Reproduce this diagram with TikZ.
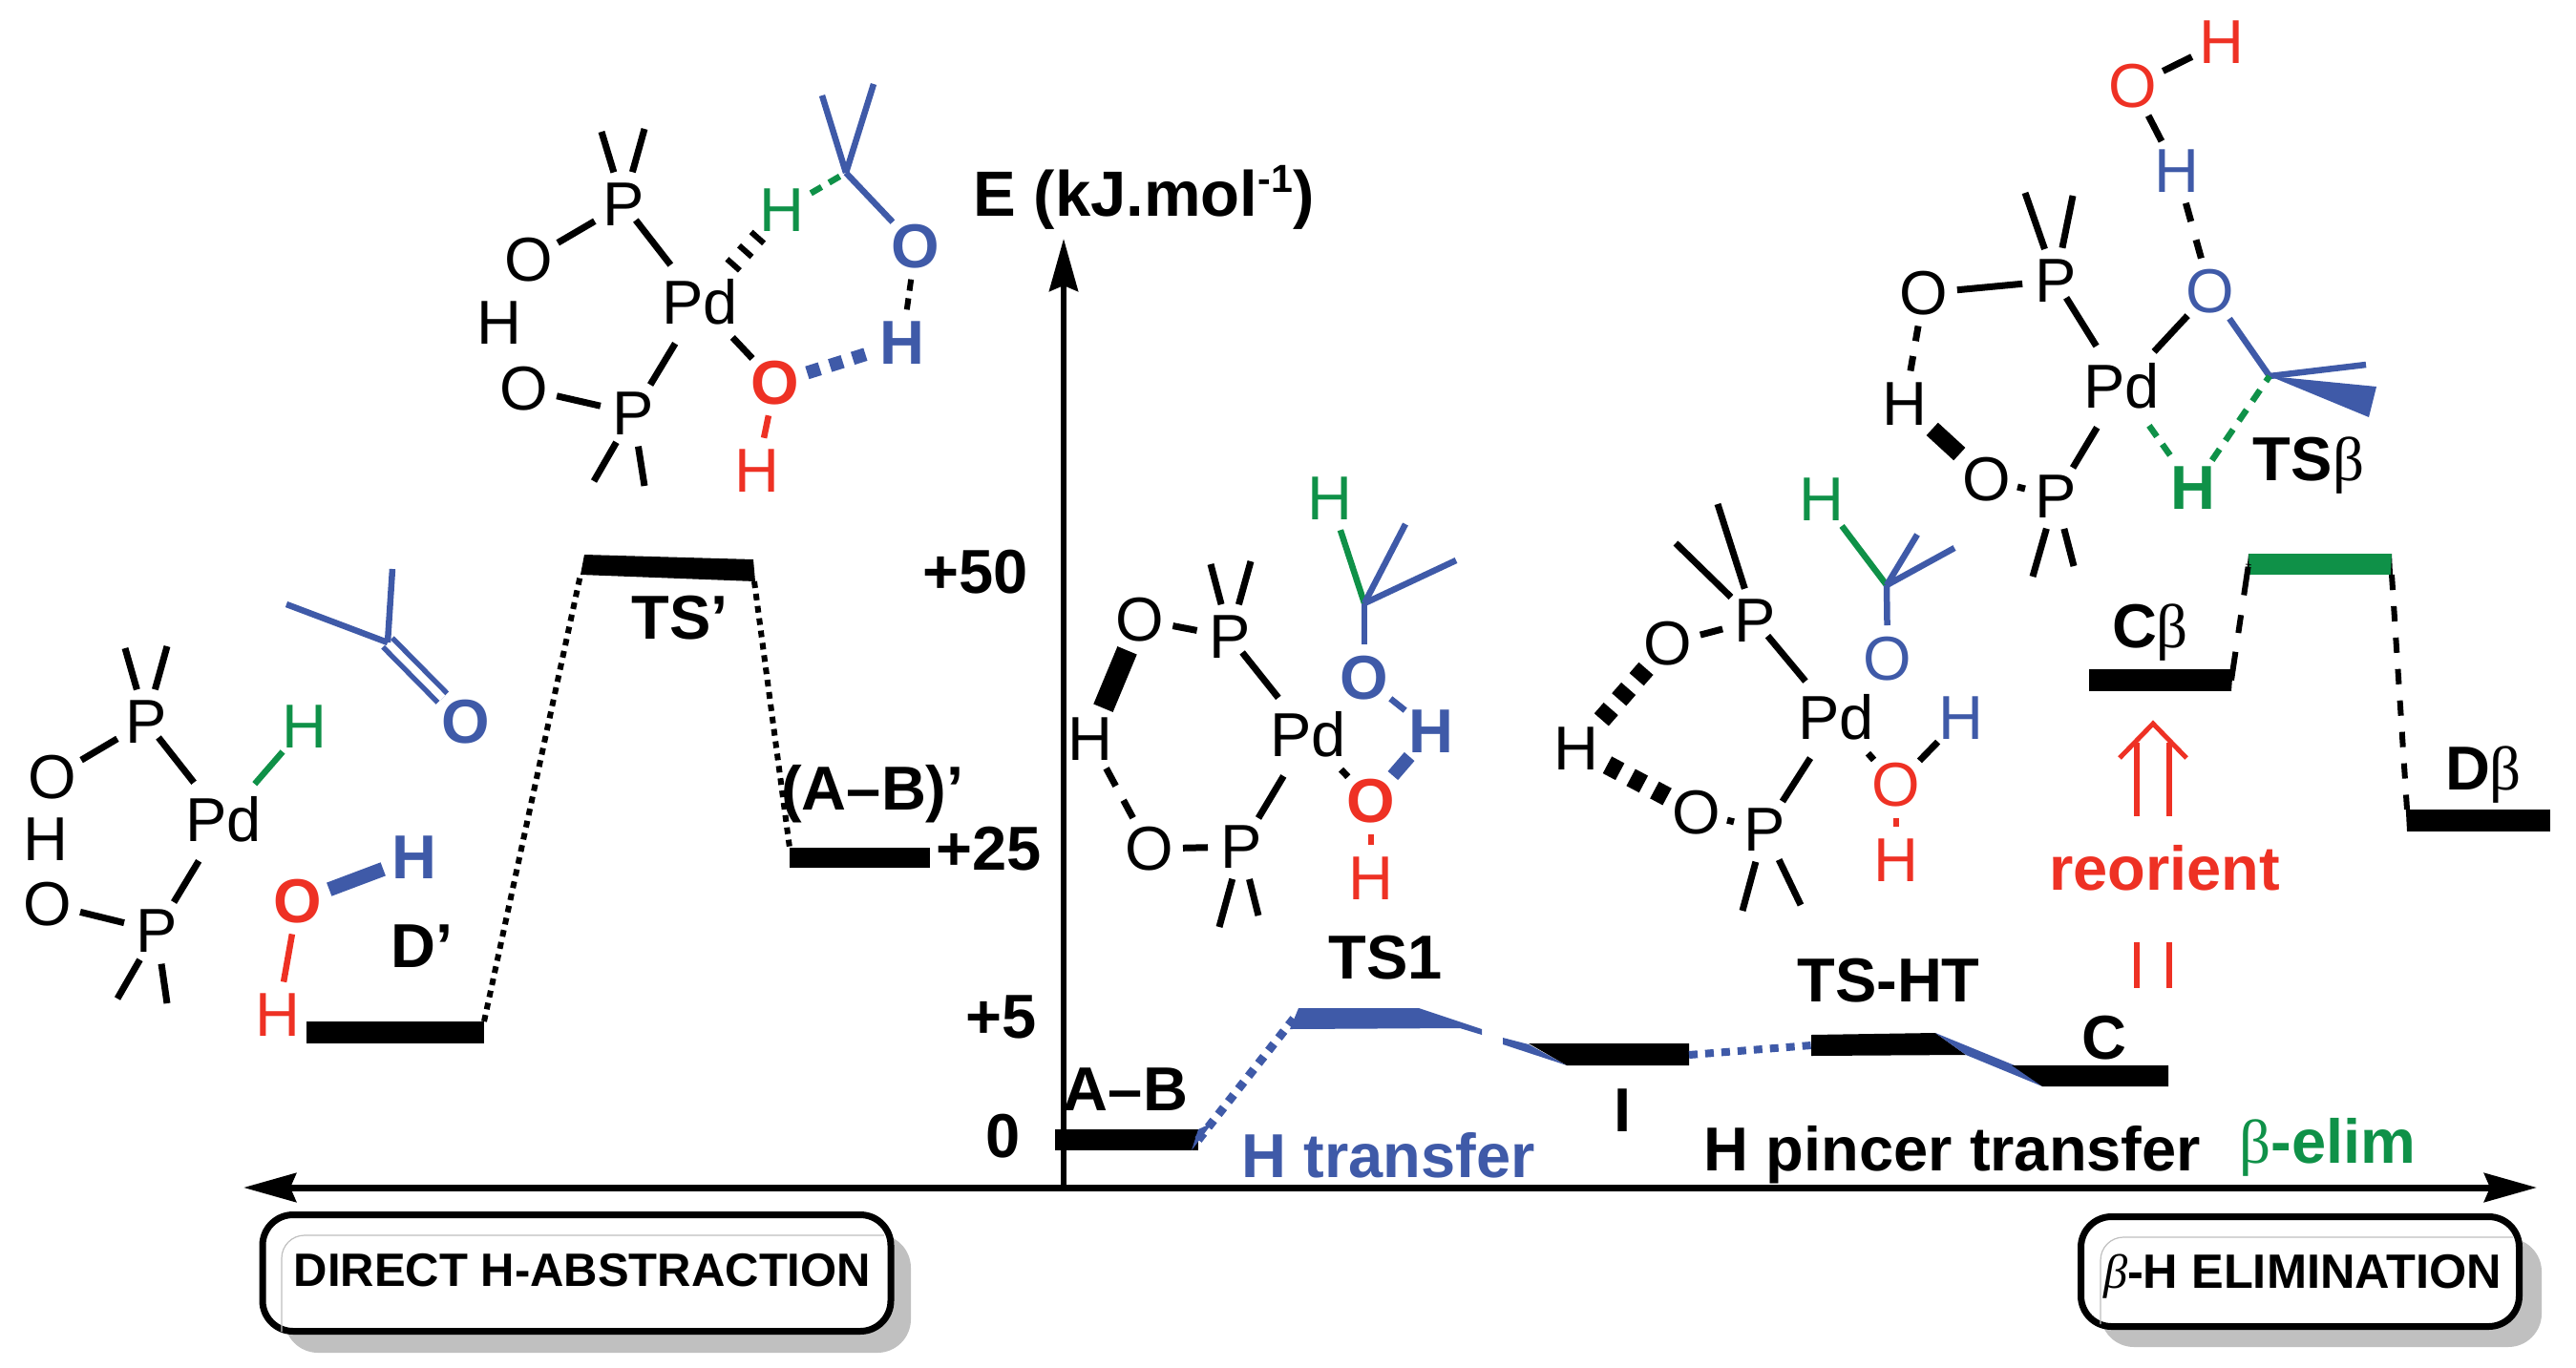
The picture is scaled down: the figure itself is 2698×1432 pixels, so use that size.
\documentclass[tikz,border=0pt]{standalone}
\usepackage{fontspec}
\setmainfont{Liberation Sans}
\newfontfamily\grk{Liberation Serif}
\usetikzlibrary{arrows.meta}
\definecolor{cblue}{HTML}{3F5AA8}
\definecolor{cred}{HTML}{EE3124}
\definecolor{cgreen}{HTML}{0F9148}
\definecolor{cshade}{HTML}{C0C0C0}
\newcommand\lbl[1]{\smash{\raisebox{-.345em}{\makebox[0pt]{#1}}}}
\newcommand\At[5][]{\node[atom,text=#2,#1] (#3) at (#4) {\lbl{#5}};}
\newcommand\bet{{\grk\mdseries β}}
\tikzset{
  atom/.style={circle,inner sep=0pt,outer sep=0pt,minimum size=70pt,font=\fontsize{65}{70}\selectfont},
  bo/.style={font=\fontsize{65}{70}\selectfont\bfseries},
  pd/.style={minimum size=100pt},
  bk/.style={draw=black,line width=7pt},
  bl/.style={draw=cblue,line width=6.5pt},
  gn/.style={draw=cgreen,line width=6.5pt},
  rd/.style={draw=cred,line width=6.5pt},
  fromP/.style={shorten <=-14pt},
  lab/.style={inner sep=0pt,outer sep=0pt,yshift=2.5pt,text height=46.5pt,text depth=0pt,font=\fontsize{65}{70}\selectfont\bfseries},
  lvl/.style={rectangle,fill=black,inner sep=0pt,outer sep=0pt},
  dotk/.style={draw=black,line width=6pt,dash pattern=on 7pt off 6pt},
  dotb/.style={draw=cblue,line width=9pt,dash pattern=on 9pt off 8pt},
  axis/.style={draw=black,line width=7pt},
  pill/.style={rectangle,rounded corners=32pt,draw=black,fill=white,line width=7pt,inner sep=0pt,outer sep=0pt},
  pshade/.style={fill=cshade,rounded corners=35pt},
  pthin/.style={draw=cshade,line width=1.2pt,rounded corners=24pt},
  pilltxt/.style={inner sep=0pt,outer sep=0pt,text height=34pt,text depth=0pt},
}
\begin{document}
\begin{tikzpicture}[x=1pt,y=-1pt]
\useasboundingbox (0,0) rectangle (2698,1432);

% ---- labelled boxes
\fill[pshade] (298,1293) rectangle (954,1417);
\node[pill,minimum width=658pt,minimum height=122pt] (boxL) at (604,1333.5) {};
\draw[pthin] (295,1395) -- (295,1294) -- (926,1294);
\node[pilltxt,font=\fontsize{49}{52}\selectfont\bfseries] (boxLt) at (610,1330) {DIRECT H-ABSTRACTION};
\fill[pshade] (2200,1297) rectangle (2662,1411);
\node[pill,minimum width=459pt,minimum height=115pt] (boxR) at (2409,1332) {};
\draw[pthin] (2200,1387) -- (2200,1296) -- (2632,1296);
\node[pilltxt,anchor=west,font=\fontsize{50.5}{52}\selectfont\bfseries] (boxRt) at (2203,1332) {{\grk\mdseries\itshape β}-H ELIMINATION};

% ---- axes
\coordinate (xL) at (255,1244);
\coordinate (xR) at (2657,1244);
\coordinate (y0) at (1114,1244);
\coordinate (yT) at (1114,250);
\draw[axis,{Stealth[length=55pt,width=30pt,inset=6pt]}-{Stealth[length=55pt,width=30pt,inset=6pt]}] (xL) -- (xR);
\draw[axis,line width=6pt,-{Stealth[length=55pt,width=30pt,inset=6pt]}] (y0) -- (yT);

% ---- levels, direct H-abstraction
\node[lvl,minimum width=186pt,minimum height=23pt] (LD) at (414,1081.5) {};
\fill[black] (612,581) -- (789,586) -- (791,609) -- (608,602) -- cycle;
\coordinate (TSa) at (608,602);
\coordinate (TSb) at (790,609);
\node[lvl,minimum width=147pt,minimum height=21pt] (LAB) at (900.5,898.5) {};
\draw[dotk] (LD.north east) -- (TSa);
\draw[dotk] (TSb) -- (LAB.north west);

% ---- levels, H transfer
\node[lvl,minimum width=150pt,minimum height=22pt] (L0) at (1180,1194) {};
\fill[cblue] (1248,1205) -- (1255,1183) -- (1270,1176) -- cycle;
\fill[cblue] (1351,1078) -- (1360,1056) -- (1486,1056) -- (1552,1078) -- (1552,1084) -- (1529,1077) -- cycle;
\coordinate (T1a) at (1355,1067);
\draw[dotb] (L0.east) -- (T1a);
\fill[cblue] (1574,1087) -- (1601,1094) -- (1641,1116) -- (1574,1094) -- cycle;
\fill[black] (1601,1093) -- (1769,1093) -- (1769,1116) -- (1641,1116) -- cycle;
\coordinate (Ie) at (1769,1105);
\coordinate (HTw) at (1897,1095);
\draw[dotb,line width=8pt] (Ie) -- (HTw);
\fill[black] (1897,1084) -- (2027,1082) -- (2059,1105) -- (1897,1106) -- cycle;
\fill[cblue] (2027,1082) -- (2110,1116) -- (2139,1138) -- (2059,1105) -- cycle;
\fill[black] (2107,1116) -- (2271,1116) -- (2271,1138) -- (2139,1138) -- cycle;

% ---- levels, beta elimination
\node[lvl,minimum width=149pt,minimum height=23pt] (LCb) at (2262.5,712.5) {};
\node[lvl,fill=cgreen,minimum width=150pt,minimum height=22pt] (LTb) at (2430,591) {};
\node[lvl,minimum width=150pt,minimum height=23pt] (LDb) at (2596,859.5) {};
\fill[black] (2336,701) -- (2340,682) -- (2337,724) -- cycle;
\fill[black] (2355,580) -- (2351,620) -- (2356,602) -- cycle;
\fill[black] (2505,580) -- (2503,618) -- (2507,618) -- (2506,602) -- cycle;
\fill[black] (2519,832) -- (2523,848) -- (2521,871) -- cycle;
\draw[draw=black,line width=6pt,dash pattern=on 30pt off 20pt on 19pt off 21pt on 30pt off 2pt] (LCb.east) -- (LTb.west);
\draw[draw=black,line width=6pt,dash pattern=on 16pt off 17pt] (LTb.south east) -- (LDb.north west);

% ---- structure D'
\At{black}{aP}{153,756}{P}
\At{black}{aO}{55,814}{O}
\At{black}{aH}{48,879}{H}
\At{black}{aOb}{50,947}{O}
\At{black}{aPb}{164,975}{P}
\At[pd]{black}{aPd}{234,859}{Pd}
\At{cgreen}{aHg}{319,761}{H}
\coordinate (am1) at (131,679);
\coordinate (am2) at (175,677);
\coordinate (am3) at (123,1046);
\coordinate (am4) at (175,1051);
\draw[bk] (am1) -- (aP);
\draw[bk] (am2) -- (aP);
\draw[bk] (aP) -- (aO);
\draw[bk,fromP] (aP) -- (aPd);
\draw[bk] (aPd) -- (aPb);
\draw[bk] (aOb) -- (aPb);
\draw[bk] (am3) -- (aPb);
\draw[bk] (am4) -- (aPb);
\draw[gn] (aPd) -- (aHg);
% acetone
\coordinate (kC) at (406,673);
\coordinate (km1) at (300,633);
\coordinate (km2) at (411,596);
\At[bo]{cblue}{kO}{488,756}{O}
\draw[draw=cblue,line width=5.5pt,double=white,double distance=8pt] (kC) -- (kO);
\draw[bl] (km1) -- (kC);
\draw[bl] (km2) -- (kC);
% water
\At[bo]{cred}{wO}{312,944}{O}
\At[bo]{cblue}{wH}{434,898}{H}
\At{cred}{wHr}{291,1063}{H}
\draw[draw=cblue,line width=15pt] (wO) -- (wH);
\draw[rd] (wO) -- (wHr);

% ---- structure TS'
\At{black}{bP}{653,214}{P}
\At{black}{bO}{554,272}{O}
\At{black}{bH}{523,338}{H}
\At{black}{bOb}{549,407}{O}
\At{black}{bPb}{663,433}{P}
\At[pd]{black}{bPd}{733,317}{Pd}
\At{cgreen}{bHg}{819,220}{H}
\At[bo]{cblue}{bOk}{959,258}{O}
\At[bo]{cblue}{bHk}{945,359}{H}
\At[bo]{cred}{bOr}{812,401}{O}
\At{cred}{bHr}{793,493}{H}
\coordinate (bm1) at (630,138);
\coordinate (bm2) at (675,135);
\coordinate (bm3) at (622,504);
\coordinate (bm4) at (675,509);
\coordinate (bC) at (886,181);
\coordinate (bm5) at (861,100);
\coordinate (bm6) at (915,88);
\draw[bk] (bm1) -- (bP);
\draw[bk] (bm2) -- (bP);
\draw[bk] (bP) -- (bO);
\draw[bk,fromP] (bP) -- (bPd);
\draw[bk] (bPd) -- (bPb);
\draw[bk] (bOb) -- (bPb);
\draw[bk] (bm3) -- (bPb);
\draw[bk] (bm4) -- (bPb);
\draw[bk] (bPd) -- (bOr);
\draw[rd] (bOr) -- (bHr);
\draw[draw=black,line width=18pt,dash pattern=on 6pt off 13pt] (bPd) -- (bHg);
\draw[draw=cblue,line width=14pt,dash pattern=on 14pt off 11pt] (bOr) -- (bHk);
\draw[draw=black,line width=6pt,dash pattern=on 12pt off 8pt] (bOk) -- (bHk);
\draw[gn,dash pattern=on 13pt off 9pt] (bHg) -- (bC);
\draw[bl] (bm5) -- (bC);
\draw[bl] (bm6) -- (bC);
\draw[bl] (bC) -- (bOk);

% ---- structure TS1
\At{black}{cP}{1288,667}{P}
\At{black}{cO}{1194,649}{O}
\At{black}{cH}{1142,774}{H}
\At{black}{cOb}{1204,889}{O}
\At{black}{cPb}{1300,887}{P}
\At[pd]{black}{cPd}{1370,770}{Pd}
\At{cgreen}{cHg}{1393,522}{H}
\At[bo]{cblue}{cOk}{1429,710}{O}
\At[bo]{cblue}{cHk}{1499,766}{H}
\At[bo]{cred}{cOr}{1436,839}{O}
\At{cred}{cHr}{1436,920}{H}
\coordinate (cm1) at (1268,591);
\coordinate (cm2) at (1310,588);
\coordinate (cm3) at (1277,971);
\coordinate (cm4) at (1318,959);
\coordinate (cC) at (1429,632);
\coordinate (cm5) at (1472,549);
\coordinate (cm6) at (1525,587);
\draw[bk] (cm1) -- (cP);
\draw[bk] (cm2) -- (cP);
\draw[bk] (cP) -- (cO);
\draw[bk,fromP] (cP) -- (cPd);
\draw[bk] (cPd) -- (cPb);
\draw[bk] (cOb) -- (cPb);
\draw[bk] (cm3) -- (cPb);
\draw[bk] (cm4) -- (cPb);
\draw[bk] (cPd) -- (cOr);
\draw[draw=black,line width=22pt] (cO) -- (cH);
\draw[bk,dash pattern=on 21pt off 17pt] (cH) -- (cOb);
\draw[draw=cblue,line width=14pt] (cHk) -- (cOr);
\draw[bl] (cOk) -- (cHk);
\draw[rd] (cOr) -- (cHr);
\draw[gn] (cHg) -- (cC);
\draw[bl] (cm5) -- (cC);
\draw[bl] (cm6) -- (cC);
\draw[bl] (cC) -- (cOk);

% ---- structure I
\At{black}{dP}{1838,650}{P}
\At{black}{dO}{1747,674}{O}
\At{black}{dH}{1651,784}{H}
\At{black}{dOb}{1777,851}{O}
\At{black}{dPb}{1848,869}{P}
\At[pd]{black}{dPd}{1923,752}{Pd}
\At{cgreen}{dHg}{1908,523}{H}
\At{cblue}{dOk}{1977,690}{O}
\At{cblue}{dHk}{2054,752}{H}
\At{cred}{dOr}{1986,822}{O}
\At{cred}{dHr}{1986,901}{H}
\coordinate (dm1) at (1799,528);
\coordinate (dm2) at (1755,569);
\coordinate (dm3) at (1825,954);
\coordinate (dm4) at (1886,948);
\coordinate (dC) at (1976,613);
\coordinate (dm5) at (2008,560);
\coordinate (dm6) at (2047,574);
\draw[bk] (dm1) -- (dP);
\draw[bk] (dm2) -- (dP);
\draw[bk] (dP) -- (dO);
\draw[bk,fromP] (dP) -- (dPd);
\draw[bk] (dPd) -- (dPb);
\draw[bk,shorten <=-2pt,shorten >=-2pt] (dOb) -- (dPb);
\draw[bk] (dm3) -- (dPb);
\draw[bk] (dm4) -- (dPb);
\draw[bk] (dPd) -- (dOr);
\draw[bk] (dOr) -- (dHk);
\draw[rd] (dOr) -- (dHr);
\draw[draw=black,line width=20pt,dash pattern=on 15pt off 13pt] (dO) -- (dH);
\draw[draw=black,line width=20pt,dash pattern=on 15pt off 13pt] (dOb) -- (dH);
\draw[gn] (dHg) -- (dC);
\draw[bl] (dm5) -- (dC);
\draw[bl] (dm6) -- (dC);
\draw[bl] (dC) -- (dOk);

% ---- structure TS-beta
\At{cred}{eHr}{2327,44}{H}
\At{cred}{eOr}{2234,90}{O}
\At{cblue}{eHk}{2280,179}{H}
\At{cblue}{eOk}{2315,305}{O}
\At{black}{eP}{2153,294}{P}
\At{black}{eO}{2015,307}{O}
\At{black}{eH}{1995,423}{H}
\At{black}{eOb}{2081,502}{O}
\At{black}{ePb}{2153,520}{P}
\At[pd]{black}{ePd}{2222,405}{Pd}
\At[bo]{cgreen}{eHg}{2297,511}{H}
\coordinate (em1) at (2121,202);
\coordinate (em2) at (2171,205);
\coordinate (em3) at (2129,604);
\coordinate (em4) at (2172,593);
\coordinate (eC) at (2377,394);
\coordinate (em5) at (2478,382);
\coordinate (ew1) at (2489,405);
\coordinate (ew2) at (2481,437);
\draw[bk] (eOr) -- (eHr);
\draw[bk] (eOr) -- (eHk);
\draw[bk,dash pattern=on 20pt off 20pt] (eHk) -- (eOk);
\draw[bk] (em1) -- (eP);
\draw[bk] (em2) -- (eP);
\draw[bk] (eP) -- (eO);
\draw[bk,fromP] (eP) -- (ePd);
\draw[bk] (ePd) -- (ePb);
\draw[bk,shorten <=-2pt,shorten >=-2pt] (eOb) -- (ePb);
\draw[bk] (em3) -- (ePb);
\draw[bk] (em4) -- (ePb);
\draw[bk] (ePd) -- (eOk);
\draw[bk,dash pattern=on 16pt off 16pt] (eO) -- (eH);
\draw[draw=black,line width=18pt,shorten <=4pt,shorten >=4pt] (eH) -- (eOb);
\draw[bl] (eOk) -- (eC);
\draw[bl] (eC) -- (em5);
\fill[cblue] (eC) -- (ew1) -- (ew2) -- cycle;
\draw[gn,dash pattern=on 14pt off 10pt] (ePd) -- (eHg);
\draw[gn,dash pattern=on 14pt off 11pt] (eHg) -- (eC);

% ---- reorient arrow
\coordinate (ra1) at (2238,855);
\coordinate (ra2) at (2238,778);
\coordinate (rb1) at (2272,855);
\coordinate (rb2) at (2272,778);
\coordinate (rt) at (2255,758);
\coordinate (rl) at (2220,794);
\coordinate (rr) at (2290,794);
\coordinate (rc1) at (2238,987);
\coordinate (rc2) at (2238,1035);
\coordinate (rd1) at (2272,987);
\coordinate (rd2) at (2272,1035);
\draw[rd] (ra1) -- (ra2);
\draw[rd] (rb1) -- (rb2);
\draw[draw=cred,line width=5pt] (rl) -- (rt) -- (rr);
\draw[rd] (rc1) -- (rc2);
\draw[rd] (rd1) -- (rd2);

% ---- text labels
\node[lab,font=\fontsize{67}{70}\selectfont\bfseries] (tE) at (1198,206) {E (kJ.mol\raisebox{.38em}{\fontsize{41}{41}\selectfont -1})};
\node[lab] (t50) at (1022,601) {+50};
\node[lab] (t25) at (1036,891) {+25};
\node[lab] (t5) at (1049,1067) {+5};
\node[lab] (t0) at (1051,1192) {0};
\node[lab] (tDp) at (442,993) {D’};
\node[lab] (tTSp) at (712,649) {TS’};
\node[lab] (tABp) at (914,828) {(A–B)’};
\node[lab] (tAB) at (1179,1143) {A–B};
\node[lab] (tTS1) at (1451,1005) {TS1};
\node[lab] (tI) at (1700,1165) {I};
\node[lab] (tTSHT) at (1978,1029) {TS-HT};
\node[lab] (tC) at (2204,1089) {C};
\node[lab] (tCb) at (2252,658) {C\bet};
\node[lab] (tDb) at (2601,807) {D\bet};
\node[lab] (tTSb) at (2418,483) {TS\bet};
\node[lab,text=cblue] (tHt) at (1454,1213) {H transfer};
\node[lab] (tHp) at (2045,1206) {H pincer transfer};
\node[lab,text=cgreen] (tbe) at (2438,1198) {\bet-elim};
\node[lab,text=cred] (tre) at (2267,912) {reorient};
\end{tikzpicture}
\end{document}
